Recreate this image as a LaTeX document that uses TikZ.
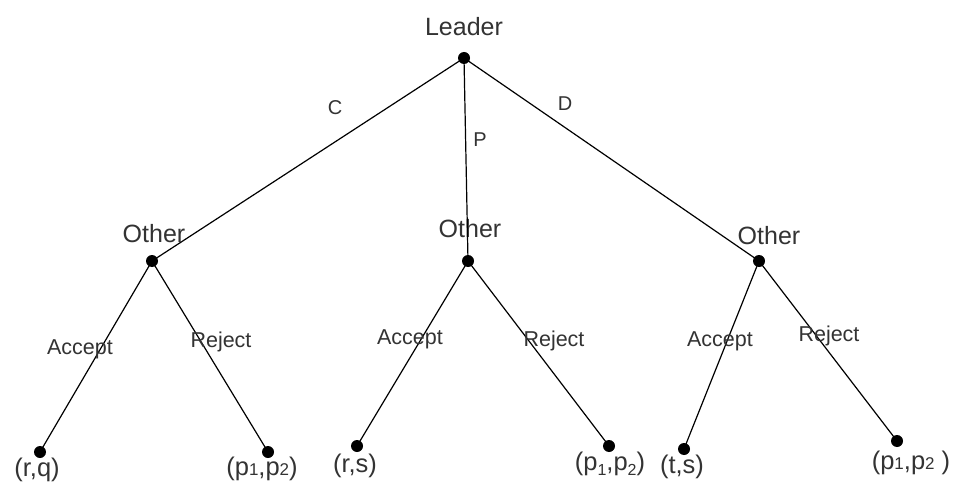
\documentclass[tikz,border=0pt]{standalone}
\usepackage{fontspec}
\setmainfont{Liberation Sans}
\newcommand{\lowsub}[1]{\raisebox{-0.35ex}{\fontsize{16}{16}\selectfont #1}}
\newcommand{\smalldig}[1]{{\fontsize{17}{17}\selectfont #1}}
\begin{document}
\begin{tikzpicture}[x=1pt,y=-1pt,
  dot/.style={circle,fill=black,inner sep=0pt,minimum size=12pt},
  player/.style={font=\fontsize{25}{25}\selectfont,text=black!80},
  payoff/.style={font=\fontsize{25.5}{25.5}\selectfont,text=black!80},
  act/.style={font=\fontsize{21.5}{21.5}\selectfont,text=black!80},
  mv/.style={font=\fontsize{20}{20}\selectfont,text=black!80},
  edge/.style={line width=1.2pt}]
\useasboundingbox[fill=white] (0,0) rectangle (963,497);
% decision nodes
\node[dot] (L) at (464,58) {};
\node[dot] (O1) at (152,261) {};
\node[dot] (O2) at (468,261) {};
\node[dot] (O3) at (759,261) {};
% terminal nodes
\node[dot] (T1) at (40,452) {};
\node[dot] (T2) at (268,452) {};
\node[dot] (T3) at (357,446) {};
\node[dot] (T4) at (609,446) {};
\node[dot] (T5) at (684,449) {};
\node[dot] (T6) at (897,441) {};
% player labels
\node[player] (tL) at (464,27) {Leader};
\node[player] (tO1) at (154,234) {Other};
\node[player] (tO2) at (470,229) {Other};
\node[player] (tO3) at (769,236) {Other};
% payoffs
\node[payoff] (p1) at (37,470) {(r,q)};
\node[payoff] (p2) at (262,469) {(p\smalldig{1},p\smalldig{2})};
\node[payoff] (p3) at (355,466) {(r,s)};
\node[payoff] (p4) at (610,464) {(p\lowsub{1},p\lowsub{2})};
\node[payoff] (p5) at (682,467) {(t,s)};
\node[payoff] (p6) at (911,463) {(p\smalldig{1},p\smalldig{2} )};
% edges
\draw[edge] (L.center) -- (O1.center);
\draw[edge] (L.center) -- (O2.center);
\draw[edge] (L.center) -- (O3.center);
\draw[edge] (O1.center) -- (T1.center);
\draw[edge] (O1.center) -- (T2.center);
\draw[edge] (O2.center) -- (T3.center);
\draw[edge] (O2.center) -- (T4.center);
\draw[edge] (O3.center) -- (T5.center);
\draw[edge] (O3.center) -- (T6.center);
% edge labels
\node[mv] (lC) at (335,108) {C};
\node[mv] (lP) at (480,140) {P};
\node[mv] (lD) at (565,104) {D};
\node[act] (a1) at (80,349) {Accept};
\node[act] (r1) at (221,342) {Reject};
\node[act] (a2) at (410,339) {Accept};
\node[act] (r2) at (554,341) {Reject};
\node[act] (a3) at (720,341) {Accept};
\node[act] (r3) at (829,336) {Reject};
\end{tikzpicture}
\end{document}
